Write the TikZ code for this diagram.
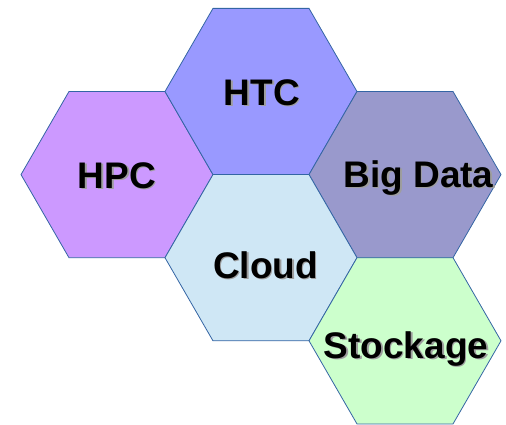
\documentclass[tikz,border=0pt]{standalone}
\usepackage{fontspec}
\setmainfont{Liberation Sans}
\usetikzlibrary{shapes.geometric}
\definecolor{hpcviolet}{RGB}{204,153,255}
\definecolor{htcblue}{RGB}{153,153,255}
\definecolor{bigdatagrey}{RGB}{153,153,204}
\definecolor{cloudblue}{RGB}{207,231,245}
\definecolor{stockgreen}{RGB}{204,255,204}
\definecolor{edgeblue}{RGB}{52,101,164}
% text with a soft drop shadow behind it
\newcommand{\dropshadowtext}[1]{%
  \makebox[0pt][l]{\hspace{1.6pt}\raisebox{-1.6pt}{\textcolor{black!38}{#1}}}#1}

\begin{document}
\begin{tikzpicture}[
    x=1pt, y=-1pt,
    hexa/.style={regular polygon, regular polygon sides=6, minimum size=192pt,
                 inner sep=0pt, outer sep=0pt, draw=edgeblue, line width=0.8pt},
    lbl/.style={anchor=base, inner sep=0pt, text=black,
                font=\fontsize{37}{40}\selectfont\bfseries},
  ]
    \useasboundingbox (0,0) rectangle (506,424);
    % honeycomb cells
    \foreach \name/\x/\y/\col in {%
      hpc/117/174.6/hpcviolet, htc/261/91.5/htcblue, bigdata/405/174.6/bigdatagrey,
      cloud/261/257.7/cloudblue, stock/405/340.8/stockgreen} {
        \node[hexa, fill=\col] (\name) at (\x,\y) {};
      }
    % labels
    \foreach \name/\dx/\dy/\txt in {%
      hpc/0/13.4/HPC, htc/1/13.5/HTC, bigdata/13.5/12.4/{Big Data},
      cloud/4.5/20.3/Cloud, stock/1/17.2/Stockage} {
        \node[lbl] (\name-lbl) at ([shift={(\dx,\dy)}]\name.center)
          {\dropshadowtext{\txt}};
      }
\end{tikzpicture}
\end{document}
